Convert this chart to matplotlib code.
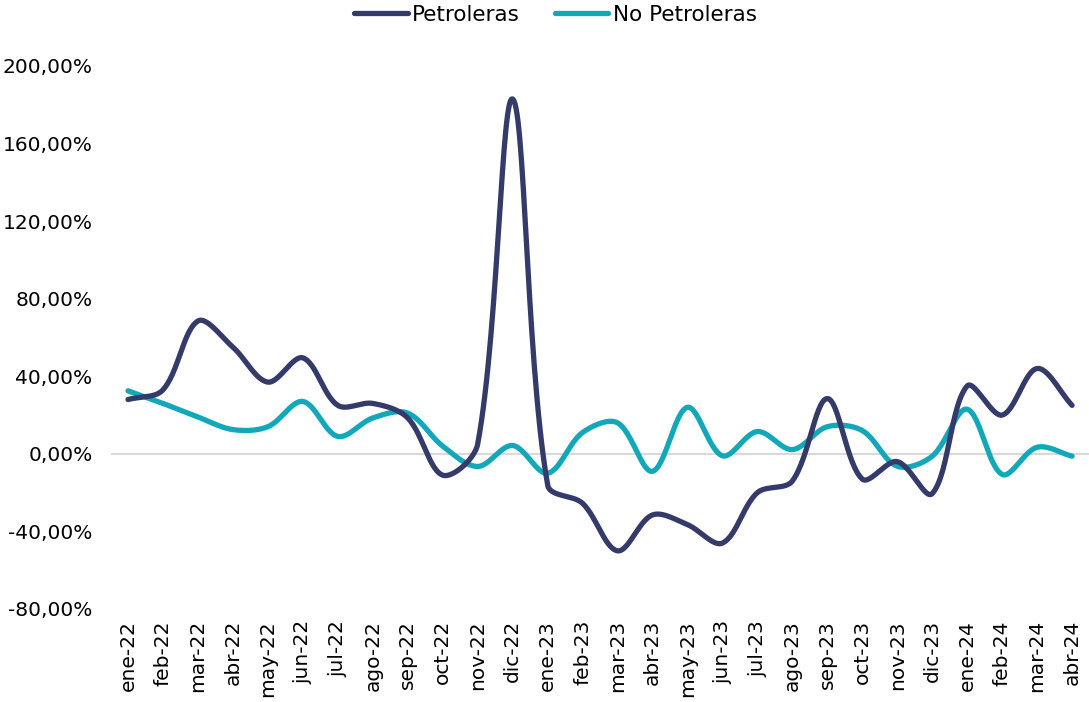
import numpy as np
from matplotlib import pyplot as plt
from matplotlib.ticker import FuncFormatter

months = ["ene-22", "feb-22", "mar-22", "abr-22", "may-22", "jun-22", "jul-22",
          "ago-22", "sep-22", "oct-22", "nov-22", "dic-22", "ene-23", "feb-23",
          "mar-23", "abr-23", "may-23", "jun-23", "jul-23", "ago-23", "sep-23",
          "oct-23", "nov-23", "dic-23", "ene-24", "feb-24", "mar-24", "abr-24"]

petroleras = [28, 33, 68.5, 55, 37, 49.5, 25, 26, 18.5, -11, 5, 183, -16, -25.5,
              -50, -31.5, -36.5, -46, -20, -14, 28.5, -13, -4, -20.5, 35, 20, 44, 25]

no_petroleras = [32.5, 26, 19, 12.5, 14, 27, 9, 18.5, 21, 4, -6.5, 4.3, -10, 11,
                 16, -9, 24, -1, 11.5, 2.2, 14, 12, -6.4, -1.2, 23, -10.6, 3.4, -1.2]

y_ticks = [-80, -40, 0, 40, 80, 120, 160, 200]

NAVY = "#343a69"
TEAL = "#12a8b9"


def smooth(x, y, sx=35.0, sy=1.94, steps=30):
    # Excel-like smoothed line: bezier through every point, tangents scaled
    # by the neighbouring segment lengths (measured in pixel-ish units)
    P = np.column_stack([np.asarray(x, float) * sx, np.asarray(y, float) * sy])
    n = len(P)
    c_out = np.zeros_like(P)
    c_in = np.zeros_like(P)
    for i in range(n):
        p0 = P[max(i - 1, 0)]
        p2 = P[min(i + 1, n - 1)]
        d01 = np.linalg.norm(P[i] - p0)
        d12 = np.linalg.norm(p2 - P[i])
        d02 = np.linalg.norm(p2 - p0)
        tang = (p2 - p0) / d02 if d02 > 0 else np.zeros(2)
        tot = d01 + d12
        c_out[i] = P[i] + tang * d02 / 3 * (d12 / tot if tot else 0)
        c_in[i] = P[i] - tang * d02 / 3 * (d01 / tot if tot else 0)
    t = np.linspace(0, 1, steps, endpoint=False)[:, None]
    pts = []
    for i in range(n - 1):
        a, b, c, d = P[i], c_out[i], c_in[i + 1], P[i + 1]
        pts.append((1 - t) ** 3 * a + 3 * t * (1 - t) ** 2 * b + 3 * t ** 2 * (1 - t) * c + t ** 3 * d)
    pts.append(P[-1:])
    pts = np.vstack(pts)
    return pts[:, 0] / sx, pts[:, 1] / sy


fig = plt.figure(figsize=(10.89, 7.02), dpi=100)
ax = fig.add_axes([0.1015, 0.1325, 0.899, 0.7735])

idx = np.arange(len(months))
ax.axhline(0, color="#d9d9d9", linewidth=1.5, zorder=1)

sx, sy = smooth(idx, petroleras)
ax.plot(sx, sy, color=NAVY, linewidth=3.8, solid_capstyle="round", label="Petroleras", zorder=3)
sx, sy = smooth(idx, no_petroleras)
ax.plot(sx, sy, color=TEAL, linewidth=3.8, solid_capstyle="round", label="No Petroleras", zorder=2)

ax.set_xlim(-0.5, len(months) - 0.5)
ax.set_ylim(-80, 200)
ax.set_yticks(y_ticks)
ax.yaxis.set_major_formatter(FuncFormatter(lambda v, p: f"{v:.2f}%".replace(".", ",")))
ax.set_xticks(idx)
ax.set_xticklabels(months, rotation=90)
ax.tick_params(axis="both", length=0, labelsize=14.5, colors="black")
ax.tick_params(axis="y", pad=13)
ax.tick_params(axis="x", pad=8)

for side in ["top", "right", "left", "bottom"]:
    ax.spines[side].set_visible(False)

fig.legend(*ax.get_legend_handles_labels(), loc="center", bbox_to_anchor=(0.51, 1 - 15 / 702),
           ncol=2, frameon=False, fontsize=15.5, handlelength=2.5, handletextpad=0.2,
           columnspacing=1.6)

fig.savefig("out.png", dpi=100)
